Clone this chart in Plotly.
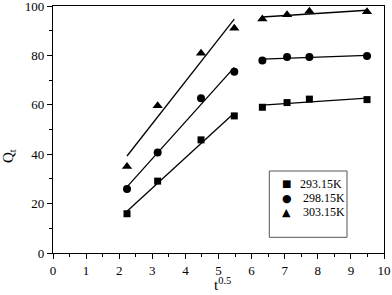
import numpy as np
import plotly.graph_objects as go

x_vals = [2.236, 3.162, 4.472, 5.477, 6.325, 7.071, 7.746, 9.487]
q_293 = [15.9, 29.1, 45.8, 55.5, 59.0, 60.9, 62.3, 62.1]
q_298 = [25.9, 40.7, 62.7, 73.4, 77.9, 79.4, 79.4, 79.8]
q_303 = [35.0, 59.6, 80.9, 91.0, 94.7, 96.5, 97.9, 97.7]
series_names = ["293.15K", "298.15K", "303.15K"]
symbols = ["square", "circle", "triangle-up"]
legend_glyphs = ["■", "●", "▲"]
sizes = [7, 8, 9]

FONT = "Liberation Serif"
W, H = 392, 295
L, R, T, B = 53, 8, 6, 42
PW, PH = W - L - R, H - T - B


def px(xp):
    return (xp - L) / PW


def py(yp):
    return (H - B - yp) / PH


fig = go.Figure()

for name, q, sym, sz in zip(series_names, [q_293, q_298, q_303], symbols, sizes):
    fig.add_trace(go.Scatter(x=x_vals, y=q, mode="markers", name=name, showlegend=False,
                             marker=dict(symbol=sym, size=sz, color="black")))
    for seg in (slice(0, 4), slice(4, 8)):
        xs = np.array(x_vals[seg]); ys = np.array(q[seg])
        k, b = np.polyfit(xs, ys, 1)
        xe = np.array([xs[0], xs[-1]])
        fig.add_trace(go.Scatter(x=xe, y=k * xe + b, mode="lines", showlegend=False,
                                 line=dict(color="black", width=1.3), hoverinfo="skip"))

annotations = [
    dict(text="t<sup>0.5</sup>", xref="paper", yref="paper", x=px(222), y=py(295),
         xanchor="center", yanchor="bottom", showarrow=False,
         font=dict(family=FONT, size=15)),
    dict(text="Q<sub>t</sub>", xref="paper", yref="paper", x=px(9), y=py(156),
         xanchor="center", yanchor="middle", showarrow=False, textangle=-90,
         font=dict(family=FONT, size=15)),
]
glyph_sizes = [10, 11, 11]
row_y = [184, 198, 212]
text_x = [298, 301, 301]
for g, gs, name, ry, tx in zip(legend_glyphs, glyph_sizes, series_names, row_y, text_x):
    annotations.append(dict(text=g, xref="paper", yref="paper", x=px(286.5), y=py(ry),
                            xanchor="center", yanchor="middle", showarrow=False,
                            font=dict(family="DejaVu Sans", size=gs)))
    annotations.append(dict(text=name, xref="paper", yref="paper", x=px(tx), y=py(ry),
                            xanchor="left", yanchor="middle", showarrow=False,
                            font=dict(family=FONT, size=12)))

axis_common = dict(ticks="outside", ticklen=5, showgrid=False, zeroline=False,
                   showline=True, linecolor="black", linewidth=1.2, mirror=True,
                   tickwidth=1.2, tickcolor="black", automargin=False,
                   ticklabeloverflow="allow",
                   tickfont=dict(family=FONT, size=13))

fig.update_layout(
    width=W, height=H,
    margin=dict(l=L, r=R, t=T, b=B, autoexpand=False),
    paper_bgcolor="white", plot_bgcolor="white",
    font=dict(family=FONT, size=12, color="black"),
    showlegend=False,
    xaxis=dict(range=[0, 10], tickvals=list(range(0, 11)),
               minor=dict(tickvals=[i + 0.5 for i in range(10)], ticks="outside", ticklen=3,
                          tickcolor="black", tickwidth=1),
               **axis_common),
    yaxis=dict(range=[0, 100], tickvals=[0, 20, 40, 60, 80, 100],
               minor=dict(tickvals=[10, 30, 50, 70, 90], ticks="outside", ticklen=3,
                          tickcolor="black", tickwidth=1),
               **axis_common),
    shapes=[dict(type="rect", xref="paper", yref="paper",
                 x0=px(269.3), x1=px(347), y0=py(237.3), y1=py(171),
                 line=dict(color="#555555", width=1))],
    annotations=annotations,
)

fig.write_html("out.html", config={"displayModeBar": False},
               post_script="document.body.style.margin='0';document.body.style.padding='0';")
